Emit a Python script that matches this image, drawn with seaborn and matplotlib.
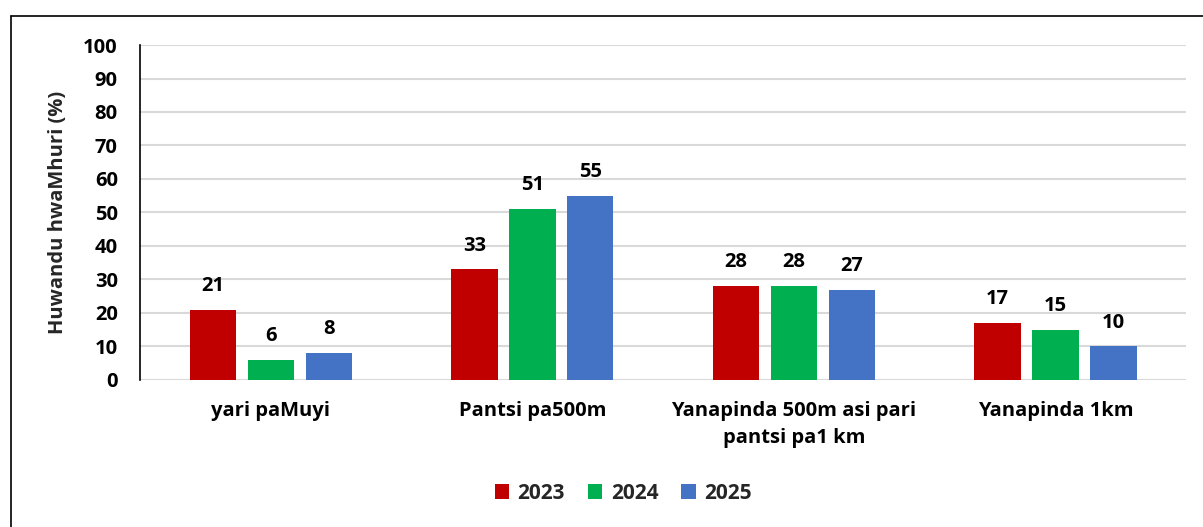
import pandas as pd
import seaborn as sns
import matplotlib.pyplot as plt
from matplotlib.lines import Line2D

# data
categories = ['yari paMuyi', 'Pantsi pa500m', 'Yanapinda 500m asi pari\npantsi pa1 km', 'Yanapinda 1km']
years = ['2023', '2024', '2025']
values_2023 = [21, 33, 28, 17]
values_2024 = [6, 51, 28, 15]
values_2025 = [8, 55, 27, 10]
colors = ['#C00000', '#00B050', '#4472C4']

df = pd.DataFrame({
    'category': categories * 3,
    'year': [y for y in years for _ in categories],
    'value': values_2023 + values_2024 + values_2025,
})

sns.set_style('white')
plt.rcParams['font.family'] = ['Open Sans', 'DejaVu Sans']
plt.rcParams['font.weight'] = 'bold'
fs = 14.5

fig = plt.figure(figsize=(12.03, 5.27), dpi=100)
ax = fig.add_axes([0.1164, 0.279, 0.8696, 0.6356])

sns.barplot(data=df, x='category', y='value', hue='year', palette=colors, saturation=1,
            width=0.665, gap=0.2, linewidth=0, ax=ax)

for container in ax.containers:
    ax.bar_label(container, padding=10, fontsize=fs, fontweight='bold', color='#000000')

ax.set_ylim(0, 100)
ax.set_xlim(-0.5, 3.5)
ax.set_yticks(range(0, 101, 10))
ax.yaxis.grid(True, color='#D9D9D9', linewidth=1.5)
ax.set_axisbelow(True)
for side in ['top', 'right', 'bottom']:
    ax.spines[side].set_visible(False)
ax.spines['left'].set_color('#000000')
ax.spines['left'].set_linewidth(1.2)
ax.tick_params(axis='y', length=0, labelsize=fs, colors='#000000', pad=16)
ax.tick_params(axis='x', length=0, labelsize=fs, colors='#000000', pad=15)
for lbl in ax.get_xticklabels() + ax.get_yticklabels():
    lbl.set_fontweight('bold')
for lbl in ax.get_xticklabels():
    lbl.set_linespacing(1.5)

ax.set_xlabel('')
ax.set_ylabel('Huwandu hwaMhuri (%)', fontsize=fs, fontweight='bold', labelpad=11)

handles, labels = ax.get_legend_handles_labels()
ax.get_legend().remove()
fig.legend(handles, labels, loc='center', bbox_to_anchor=(0.518, 0.0645), ncol=3,
           frameon=False, handlelength=0.7, handleheight=0.7,
           handletextpad=0.4, columnspacing=1.1, prop={'weight': 'bold', 'size': 15})

# outer chart frame (top and left edges visible)
top = 1 - 16 / 527
left = 11 / 1203
fig.add_artist(Line2D([left, 1], [top, top], transform=fig.transFigure, color='#000000', linewidth=1.2))
fig.add_artist(Line2D([left, left], [0, top], transform=fig.transFigure, color='#000000', linewidth=1.2))

fig.savefig('out.png', dpi=100, facecolor='white')
